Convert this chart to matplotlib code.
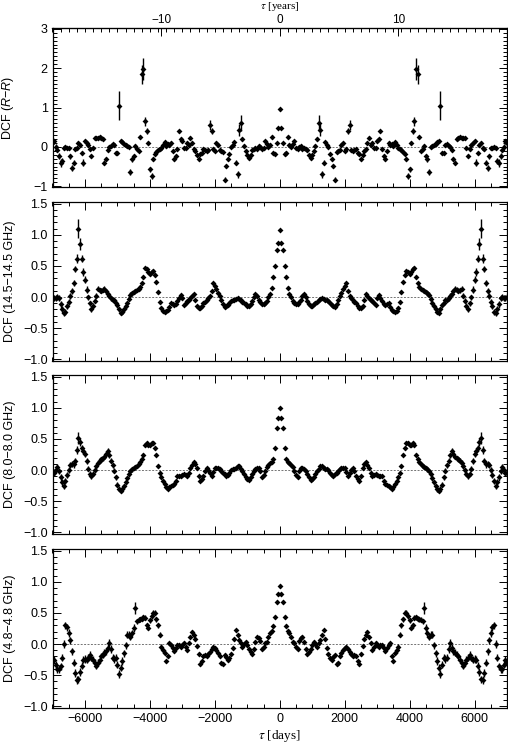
import matplotlib
matplotlib.use('Agg')
import matplotlib.pyplot as plt
import numpy as np
from matplotlib.ticker import MultipleLocator, FixedLocator

plt.rcParams['font.family'] = ['Liberation Sans', 'DejaVu Sans']
plt.rcParams['mathtext.fontset'] = 'custom'
plt.rcParams['mathtext.it'] = 'Liberation Sans:italic'
plt.rcParams['mathtext.rm'] = 'Liberation Sans'

# lag grid (days), positive half; the DCF is symmetric in tau
lag_pos = np.arange(0, 7001, 50)

# DCF R-R (optical)
dcf_rr = [
    0.95, 0.48, 0.10, -0.18, -0.15, 0.25, 0.05, 0.00, 0.08, 0.14,
    -0.03, -0.05, 0.00, 0.02, -0.05, -0.03, -0.06, -0.08, -0.20, -0.28,
    -0.20, -0.10, 0.02, 0.19, 0.60, 0.42, -0.70, -0.40, 0.12, 0.05,
    0.00, -0.19, -0.30, -0.49, -0.83, -0.12, -0.10, -0.07, 0.05, 0.10,
    -0.10, -0.05, 0.40, 0.55, -0.08, -0.10, -0.07, -0.06, -0.15, -0.19,
    -0.32, -0.20, -0.10, -0.06, 0.10, 0.23, 0.05, 0.10, -0.02, -0.03,
    0.14, 0.20, 0.40, -0.06, -0.24, -0.32, -0.10, 0.10, 0.05, 0.06,
    0.02, 0.12, 0.05, -0.03, -0.05, -0.07, -0.12, -0.19, -0.32, -0.74,
    -0.57, 0.10, 0.40, 0.65, 1.98, 1.84, 0.25, -0.10, -0.05, 0.02,
    -0.22, -0.32, -0.64, 0.00, 0.02, 0.05, 0.06, 0.12, 0.15, 1.05,
    -0.15, -0.15, 0.05, 0.06, 0.02, 0.00, -0.08, -0.32, -0.40, 0.20,
    0.23, 0.25, 0.23, 0.22, 0.23, -0.03, -0.24, -0.05, 0.05, 0.10,
    0.14, -0.40, -0.15, 0.05, 0.10, -0.03, -0.05, -0.40, -0.53, -0.24,
    -0.02, -0.03, 0.00, -0.03, -0.36, -0.40, -0.24, -0.07, 0.00, 0.14,
    0.10]
err_rr = [
    0.03, 0.03, 0.03, 0.04, 0.04, 0.05, 0.04, 0.04, 0.04, 0.04,
    0.04, 0.04, 0.04, 0.04, 0.04, 0.04, 0.04, 0.04, 0.05, 0.05,
    0.04, 0.04, 0.04, 0.05, 0.20, 0.15, 0.08, 0.06, 0.04, 0.04,
    0.04, 0.04, 0.05, 0.05, 0.06, 0.04, 0.04, 0.04, 0.04, 0.04,
    0.04, 0.04, 0.08, 0.12, 0.04, 0.04, 0.04, 0.04, 0.04, 0.04,
    0.05, 0.04, 0.04, 0.04, 0.04, 0.05, 0.04, 0.04, 0.04, 0.04,
    0.04, 0.05, 0.04, 0.04, 0.05, 0.05, 0.04, 0.04, 0.04, 0.04,
    0.04, 0.04, 0.04, 0.04, 0.04, 0.04, 0.04, 0.05, 0.05, 0.07,
    0.06, 0.05, 0.08, 0.12, 0.28, 0.25, 0.05, 0.04, 0.04, 0.04,
    0.05, 0.06, 0.07, 0.04, 0.04, 0.04, 0.04, 0.04, 0.05, 0.37,
    0.05, 0.05, 0.04, 0.04, 0.04, 0.04, 0.05, 0.05, 0.06, 0.05,
    0.05, 0.05, 0.05, 0.05, 0.05, 0.05, 0.05, 0.05, 0.05, 0.05,
    0.05, 0.08, 0.05, 0.05, 0.05, 0.05, 0.05, 0.06, 0.08, 0.06,
    0.05, 0.05, 0.05, 0.05, 0.08, 0.10, 0.08, 0.06, 0.06, 0.06,
    0.06]

# DCF 14.5 GHz
dcf_145 = [
    1.08, 0.87, 0.76, 0.50, 0.33, 0.15, 0.05, 0.00, -0.06, -0.09,
    -0.12, -0.12, -0.08, -0.04, 0.02, 0.05, 0.00, -0.06, -0.12, -0.15,
    -0.14, -0.12, -0.10, -0.08, -0.05, -0.03, -0.02, -0.03, -0.04, -0.05,
    -0.07, -0.10, -0.13, -0.15, -0.16, -0.12, -0.04, 0.02, 0.07, 0.13,
    0.18, 0.22, 0.10, 0.02, -0.02, -0.05, -0.08, -0.10, -0.15, -0.18,
    -0.17, -0.15, -0.05, 0.05, 0.02, -0.02, -0.04, -0.06, -0.10, -0.13,
    -0.02, 0.03, -0.02, -0.06, -0.11, -0.13, -0.12, -0.10, -0.16, -0.21,
    -0.23, -0.24, -0.22, -0.18, -0.08, 0.08, 0.25, 0.36, 0.42, 0.40,
    0.37, 0.40, 0.45, 0.47, 0.32, 0.22, 0.16, 0.13, 0.12, 0.10,
    0.08, 0.06, 0.04, -0.03, -0.10, -0.15, -0.20, -0.24, -0.25, -0.20,
    -0.13, -0.09, -0.05, -0.04, -0.02, 0.02, 0.05, 0.09, 0.13, 0.12,
    0.10, 0.11, 0.13, 0.02, -0.06, -0.14, -0.20, -0.10, 0.00, 0.12,
    0.28, 0.40, 0.62, 0.85, 1.10, 0.62, 0.45, 0.22, 0.10, 0.02,
    -0.08, -0.15, -0.24, -0.26, -0.20, -0.12, -0.02, 0.00, -0.01, -0.02,
    0.00]
err_145 = [0.02] * 71 + [0.03] * 20 + [0.04] * 28 + [0.06] * 4 + [0.10, 0.15, 0.08] + [0.05] * 15

# DCF 8.0 GHz
dcf_80 = [
    1.00, 0.84, 0.67, 0.35, 0.18, 0.13, 0.11, 0.08, 0.05, -0.01,
    -0.08, -0.12, -0.02, 0.03, 0.04, 0.01, -0.02, -0.06, -0.11, -0.16,
    -0.15, -0.11, -0.06, -0.02, 0.02, 0.06, 0.06, 0.04, 0.02, 0.01,
    0.00, -0.04, -0.08, -0.09, -0.07, -0.04, -0.01, 0.02, 0.04, 0.04,
    0.03, -0.03, -0.09, -0.05, 0.00, 0.03, -0.02, -0.10, -0.15, -0.17,
    -0.10, 0.03, 0.10, 0.13, 0.08, 0.03, -0.04, -0.09, -0.08, -0.07,
    -0.08, -0.09, -0.09, -0.10, -0.17, -0.22, -0.24, -0.25, -0.28, -0.30,
    -0.27, -0.22, -0.18, -0.12, -0.05, 0.06, 0.25, 0.36, 0.43, 0.44,
    0.41, 0.40, 0.43, 0.40, 0.25, 0.18, 0.13, 0.09, 0.06, 0.05,
    0.03, 0.01, -0.02, -0.07, -0.13, -0.20, -0.26, -0.31, -0.33, -0.30,
    -0.24, -0.12, -0.01, 0.08, 0.15, 0.24, 0.31, 0.26, 0.21, 0.19,
    0.17, 0.15, 0.12, 0.06, 0.00, -0.06, -0.10, -0.06, 0.02, 0.15,
    0.26, 0.31, 0.35, 0.45, 0.52, 0.32, 0.15, 0.09, 0.10, 0.08,
    0.00, -0.08, -0.18, -0.25, -0.20, -0.12, -0.02, 0.05, 0.00, -0.04,
    -0.05]
err_80 = [0.02] * 71 + [0.03] * 20 + [0.04] * 28 + [0.05] * 4 + [0.06, 0.10, 0.06] + [0.05] * 15

# DCF 4.8 GHz
dcf_48 = [
    0.93, 0.80, 0.68, 0.44, 0.29, 0.21, 0.17, 0.12, 0.04, 0.01,
    -0.04, -0.08, 0.05, 0.10, 0.11, 0.03, -0.08, -0.16, -0.13, -0.08,
    -0.02, 0.04, 0.00, -0.04, 0.01, 0.07, 0.15, 0.22, 0.08, -0.06,
    -0.16, -0.22, -0.26, -0.21, -0.17, -0.32, -0.30, -0.20, -0.14, -0.10,
    -0.07, -0.05, -0.08, -0.13, -0.16, -0.19, -0.17, -0.20, -0.28, -0.32,
    -0.16, -0.03, 0.08, 0.15, 0.19, 0.12, 0.02, -0.10, -0.04, 0.02,
    -0.01, -0.04, -0.02, -0.01, -0.06, -0.12, -0.06, -0.01, 0.01, -0.20,
    -0.28, -0.14, -0.10, -0.04, 0.15, 0.30, 0.40, 0.50, 0.50, 0.45,
    0.38, 0.26, 0.30, 0.42, 0.43, 0.41, 0.40, 0.39, 0.37, 0.58,
    0.26, 0.17, 0.12, 0.15, 0.15, -0.02, -0.15, -0.27, -0.38, -0.48,
    -0.33, -0.22, -0.24, -0.22, -0.08, 0.02, -0.06, -0.12, -0.14, -0.17,
    -0.20, -0.25, -0.30, -0.35, -0.30, -0.25, -0.22, -0.17, -0.22, -0.25,
    -0.24, -0.25, -0.35, -0.45, -0.57, -0.58, -0.47, -0.30, -0.12, 0.06,
    0.18, 0.27, 0.30, 0.00, -0.22, -0.36, -0.40, -0.41, -0.33, -0.25,
    -0.30]
err_48 = [0.03] * 71 + [0.04] * 18 + [0.10] + [0.06] * 51

panels = [
    (dcf_rr, err_rr, 'DCF ($R$\u2212$R$)', (-1.02, 3.02), 1.0, 0.1, [-1, 0, 1, 2, 3]),
    (dcf_145, err_145, 'DCF (14.5\u221214.5 GHz)', (-1.03, 1.53), 0.5, 0.1, [-1.0, -0.5, 0.0, 0.5, 1.0, 1.5]),
    (dcf_80, err_80, 'DCF (8.0\u22128.0 GHz)', (-1.03, 1.53), 0.5, 0.1, [-1.0, -0.5, 0.0, 0.5, 1.0, 1.5]),
    (dcf_48, err_48, 'DCF (4.8\u22124.8 GHz)', (-1.03, 1.53), 0.5, 0.1, [-1.0, -0.5, 0.0, 0.5, 1.0, 1.5]),
]

fig = plt.figure(figsize=(5.08, 7.44), dpi=100)
W, H = 508.0, 744.0
tops = [28, 202, 375, 549]
ph = 159
left, right = 52.5, 507

lag = np.concatenate([-lag_pos[:0:-1], lag_pos])

axes = []
for i, (vals, errs, lab, ylim, maj, mnr, yt) in enumerate(panels):
    ax = fig.add_axes([left / W, 1 - (tops[i] + ph) / H, (right - left) / W, ph / H])
    v = np.asarray(vals)
    e = np.asarray(errs)
    y = np.concatenate([v[:0:-1], v])
    ye = np.concatenate([e[:0:-1], e])
    ax.axhline(0, color='0.45', lw=0.7, ls=(0, (2, 1.5)), zorder=1)
    ax.errorbar(lag, y, yerr=ye, fmt='D', ms=3.0, color='black', ecolor='black',
                elinewidth=1.0, capsize=0, mew=0, zorder=3)
    ax.set_xlim(-7000, 7000)
    ax.set_ylim(*ylim)
    ax.xaxis.set_major_locator(MultipleLocator(2000))
    ax.xaxis.set_minor_locator(MultipleLocator(500))
    ax.yaxis.set_major_locator(FixedLocator(yt))
    ax.yaxis.set_minor_locator(MultipleLocator(mnr))
    if maj == 0.5:
        ax.set_yticklabels(['%.1f' % t if t >= 0 else '\u2212%.1f' % -t for t in yt])
    ax.tick_params(which='both', direction='in', top=(i > 0), right=True, width=0.7,
                   labelsize=9)
    ax.tick_params(which='major', length=5.5)
    ax.tick_params(which='minor', length=2.6)
    for s in ax.spines.values():
        s.set_linewidth(0.9)
    ax.set_ylabel(lab, fontsize=9, labelpad=4)
    if i < 3:
        ax.set_xticklabels([])
    axes.append(ax)

for ax in axes:
    ax.yaxis.set_label_coords(-0.08, 0.5)

axes[3].set_xlabel('$\\tau$ [days]', fontsize=9.5, family='Liberation Serif',
                   math_fontfamily='stix', labelpad=2)

top = axes[0].secondary_xaxis('top', functions=(lambda d: d / 365.25, lambda yr: yr * 365.25))
top.xaxis.set_major_locator(FixedLocator([-10, 0, 10]))
top.xaxis.set_minor_locator(MultipleLocator(250 / 365.25))
top.tick_params(which='both', direction='in', width=0.7, labelsize=8.5, pad=1.5)
top.tick_params(which='major', length=5.5)
top.tick_params(which='minor', length=2.6)
top.set_xticklabels(['\u221210', '0', '10'])

# x position of tau = 0 in figure coords, label sits just above the year ticks
fig.text((left + (right - left) / 2) / W, 1 - 6.5 / H, '$\\tau$ [years]', fontsize=8,
         family='Liberation Serif', math_fontfamily='stix', ha='center', va='center')

fig.savefig('out.png', dpi=100)
